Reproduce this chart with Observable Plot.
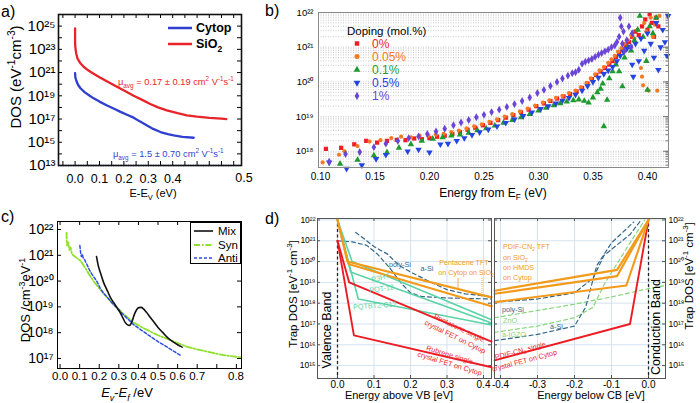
<!DOCTYPE html>
<html><head><meta charset="utf-8">
<script src="https://cdn.jsdelivr.net/npm/d3@7"></script>
<script src="https://cdn.jsdelivr.net/npm/@observablehq/plot@0.6"></script>
<style>
html,body{margin:0;padding:0;background:#fff;}
#fig{position:relative;width:700px;height:403px;overflow:hidden;background:#fff;}
</style></head>
<body><div id="fig"></div>
<script>
// ================= DATA =================
// Panel a: DOS vs E-Ev (log10 DOS)
const cytopE = [0, 0.001, 0.005, 0.012, 0.022, 0.04, 0.06, 0.076, 0.1, 0.131, 0.16, 0.186, 0.215, 0.24, 0.265, 0.295, 0.32, 0.35, 0.38, 0.404, 0.44, 0.486];
const cytopLogDOS = [20.96, 20.6, 20.3, 19.95, 19.65, 19.3, 19.0, 18.78, 18.5, 18.17, 17.88, 17.62, 17.35, 17.12, 16.8, 16.45, 16.15, 15.88, 15.7, 15.59, 15.47, 15.39];
const sio2E = [0, 0, 0.002, 0.005, 0.01, 0.02, 0.035, 0.05, 0.076, 0.1, 0.13, 0.16, 0.185, 0.21, 0.24, 0.275, 0.308, 0.34, 0.376, 0.42, 0.458, 0.5, 0.55, 0.6, 0.62];
const sio2LogDOS = [24.8, 23.5, 23.0, 22.6, 22.2, 21.85, 21.5, 21.25, 20.9, 20.6, 20.25, 19.9, 19.62, 19.35, 19.0, 18.65, 18.3, 18.0, 17.74, 17.5, 17.32, 17.2, 17.1, 17.03, 17.0];
const aXTicks = [0, 0.1, 0.2, 0.3, 0.4];
const aYExp = [13, 15, 17, 19, 21, 23, 25];

// Panel b: [energy from EF, log10 DOS] per doping level
const dope0 = [[0.105,18.07],[0.119,18.1],[0.131,18.2],[0.142,18.3],[0.152,18.25],[0.161,18.3],[0.17,18.33],[0.178,18.32],[0.186,18.37],[0.193,18.35],[0.2,18.38],[0.207,18.42],[0.214,18.45],[0.221,18.5],[0.228,18.55],[0.235,18.62],[0.242,18.68],[0.249,18.75],[0.256,18.82],[0.263,18.9],[0.27,18.97],[0.277,19.04],[0.284,19.12],[0.291,19.2],[0.298,19.3],[0.305,19.38],[0.311,19.45],[0.317,19.52],[0.323,19.58],[0.329,19.65],[0.335,19.72],[0.34,19.82],[0.345,19.95],[0.349,20.08],[0.353,20.2],[0.357,20.3],[0.361,20.4],[0.365,20.5],[0.368,20.6],[0.371,20.72],[0.374,20.82],[0.377,20.93],[0.38,21.05],[0.383,21.15],[0.386,21.3],[0.389,21.45],[0.392,21.35],[0.395,21.6],[0.398,21.8],[0.4,21.5],[0.402,21.95],[0.404,21.7],[0.406,21.3],[0.408,21.85],[0.41,21.6]];
const dope005 = [[0.102,17.68],[0.117,17.9],[0.122,18.0],[0.134,18.15],[0.145,18.28],[0.155,18.32],[0.165,18.38],[0.174,18.42],[0.183,18.4],[0.191,18.45],[0.199,18.45],[0.206,18.48],[0.213,18.5],[0.22,18.55],[0.227,18.6],[0.234,18.66],[0.241,18.72],[0.248,18.78],[0.255,18.85],[0.262,18.92],[0.269,19.0],[0.276,19.07],[0.283,19.15],[0.29,19.23],[0.297,19.32],[0.304,19.4],[0.31,19.47],[0.316,19.54],[0.322,19.6],[0.328,19.68],[0.334,19.75],[0.339,19.85],[0.344,19.97],[0.348,20.1],[0.352,20.22],[0.356,20.33],[0.36,20.43],[0.364,20.55],[0.367,20.65],[0.37,20.75],[0.373,20.87],[0.376,20.97],[0.379,21.1],[0.382,21.2],[0.385,21.35],[0.388,21.25],[0.391,21.5],[0.394,20.4],[0.395,20.15],[0.396,19.9],[0.397,21.7],[0.399,21.45],[0.401,19.75],[0.403,21.85],[0.405,21.3],[0.407,21.65],[0.409,19.75],[0.411,21.9]];
const dope01 = [[0.118,17.64],[0.134,17.75],[0.149,17.88],[0.161,17.97],[0.172,18.1],[0.183,18.2],[0.193,18.3],[0.203,18.36],[0.212,18.4],[0.22,18.45],[0.228,18.48],[0.236,18.53],[0.244,18.6],[0.252,18.66],[0.26,18.74],[0.268,18.82],[0.276,18.9],[0.284,18.98],[0.292,19.07],[0.3,19.17],[0.307,19.25],[0.314,19.32],[0.32,19.38],[0.326,19.43],[0.332,19.47],[0.337,19.49],[0.342,19.45],[0.346,19.4],[0.35,19.55],[0.354,19.7],[0.357,19.8],[0.359,19.95],[0.36,18.72],[0.363,19.48],[0.365,20.1],[0.368,20.3],[0.371,20.5],[0.374,20.3],[0.377,19.87],[0.379,20.7],[0.382,21.0],[0.385,20.9],[0.388,21.2],[0.391,21.5],[0.393,21.9],[0.396,21.3],[0.399,20.6],[0.4,19.77],[0.402,21.6],[0.405,21.4],[0.408,21.85]];
const dope05 = [[0.108,17.68],[0.124,17.5],[0.138,17.6],[0.151,17.78],[0.16,17.9],[0.18,18.0],[0.19,18.05],[0.2,17.97],[0.21,18.2],[0.217,18.22],[0.225,18.3],[0.232,18.38],[0.239,18.47],[0.246,18.55],[0.254,18.63],[0.262,18.72],[0.27,18.82],[0.278,18.92],[0.286,19.02],[0.294,19.12],[0.302,19.22],[0.309,19.3],[0.316,19.38],[0.322,19.46],[0.328,19.54],[0.334,19.63],[0.34,19.75],[0.345,19.88],[0.35,20.0],[0.355,20.12],[0.36,20.23],[0.364,20.33],[0.368,20.43],[0.372,20.6],[0.375,20.75],[0.378,20.87],[0.381,20.95],[0.384,21.02],[0.386,20.5],[0.387,20.15],[0.389,21.1],[0.392,20.6],[0.394,21.25],[0.397,20.9],[0.4,21.4],[0.403,21.1],[0.406,20.7],[0.408,21.7],[0.41,20.35],[0.412,21.0],[0.414,21.5],[0.416,21.15],[0.418,20.75],[0.419,21.9]];
const dope1 = [[0.108,17.7],[0.123,17.92],[0.136,17.98],[0.149,18.12],[0.16,18.22],[0.171,18.3],[0.181,18.38],[0.19,18.43],[0.198,18.5],[0.206,18.57],[0.214,18.65],[0.222,18.75],[0.229,18.83],[0.236,18.9],[0.243,18.98],[0.25,19.05],[0.257,19.13],[0.264,19.2],[0.271,19.28],[0.278,19.36],[0.285,19.45],[0.292,19.55],[0.299,19.68],[0.305,19.77],[0.311,19.88],[0.317,20.0],[0.322,20.1],[0.327,20.18],[0.331,20.25],[0.334,20.28],[0.337,20.35],[0.34,20.52],[0.343,20.58],[0.346,20.62],[0.349,20.66],[0.352,20.72],[0.355,20.78],[0.358,20.83],[0.361,20.88],[0.364,20.93],[0.367,21.0],[0.37,21.05],[0.372,21.15],[0.374,21.3],[0.375,21.85],[0.376,21.6],[0.377,21.1],[0.378,21.45],[0.379,20.9],[0.381,21.2],[0.383,21.6],[0.385,21.0],[0.386,21.4]];
const dopingLabels = ["0%", "0.05%", "0.1%", "0.5%", "1%"];
const bXTicks = [0.10, 0.15, 0.20, 0.25, 0.30, 0.35, 0.40];
const bYExp = [18, 19, 20, 21, 22];

// Panel c: [Ev-Ef, log10 DOS]
const mixC = [[0.186,20.95],[0.195,20.6],[0.207,20.3],[0.222,19.95],[0.24,19.65],[0.258,19.35],[0.275,19.15],[0.292,18.95],[0.309,18.75],[0.322,18.55],[0.334,18.38],[0.345,18.3],[0.352,18.28],[0.36,18.32],[0.368,18.45],[0.378,18.68],[0.39,18.88],[0.402,18.97],[0.414,18.98],[0.426,18.92],[0.44,18.8],[0.46,18.6],[0.48,18.4],[0.5,18.2],[0.525,18.0],[0.55,17.8],[0.575,17.65],[0.6,17.53],[0.623,17.44]];
const synC = [[0.033,21.88],[0.034,21.6],[0.036,21.38],[0.042,21.5],[0.048,21.2],[0.054,21.3],[0.06,21.06],[0.07,20.98],[0.085,20.9],[0.105,20.78],[0.125,20.55],[0.145,20.3],[0.17,20.0],[0.2,19.72],[0.23,19.45],[0.258,19.22],[0.29,18.98],[0.32,18.75],[0.35,18.55],[0.377,18.38],[0.42,18.2],[0.462,18.04],[0.5,17.9],[0.547,17.76],[0.6,17.6],[0.65,17.45],[0.717,17.32],[0.8,17.18],[0.86,17.1],[0.92,17.04]];
const antiC = [[0.101,21.38],[0.105,21.1],[0.109,20.95],[0.113,21.05],[0.118,20.9],[0.124,20.85],[0.13,20.75],[0.14,20.6],[0.152,20.4],[0.164,20.25],[0.178,20.1],[0.19,19.96],[0.205,19.72],[0.22,19.55],[0.24,19.38],[0.265,19.15],[0.292,18.95],[0.32,18.72],[0.35,18.5],[0.377,18.3],[0.42,18.07],[0.462,17.85],[0.5,17.65],[0.547,17.44],[0.58,17.28],[0.615,17.12]];
const cXTicks = [0, 0.1, 0.2, 0.3, 0.4, 0.5, 0.6, 0.7];
const cYExp = [17, 18, 19, 20, 21, 22];

// Panel d left: energy above VB, log10 trap DOS
const pentTftCytop = [[0, 22], [0.027, 20.0], [0.422, 18.28]];
const pentTftSiO2 = [[0, 22], [0.03, 19.88], [0.422, 17.85]];
const p3ht = [[0, 22], [0.04, 20.0], [0.422, 17.2]];
const pqt12 = [[0, 22], [0.036, 19.5], [0.422, 17.05]];
const pqtbt2 = [[0, 22], [0.057, 18.2], [0.422, 16.95]];
const pentSC = [[0, 21.0], [0.032, 19.0], [0.422, 16.15]];
const rubreneSC = [[0, 21.0], [0.045, 16.45], [0.422, 14.92]];
const polySiVB = [[0, 21.0], [0.04, 20.95], [0.08, 20.78], [0.11, 20.35], [0.145, 19.65], [0.175, 18.95], [0.2, 18.5], [0.23, 18.32], [0.3, 18.25], [0.422, 18.2]];
const aSiVB = [[0.05, 21.4], [0.08, 21.0], [0.1, 20.72], [0.136, 20.37], [0.17, 19.8], [0.2, 19.5], [0.245, 19.1], [0.3, 18.65], [0.35, 18.45], [0.422, 18.32]];
// Panel d right: energy below CB
const pdifSiO2 = [[-0.416, 18.6], [-0.085, 19.6], [0, 22]];
const pdifHMDS = [[-0.416, 18.45], [-0.085, 19.3], [0, 22]];
const pdifCytop = [[-0.416, 18.05], [-0.06, 18.85], [0, 22]];
const pdifSC = [[-0.416, 15.25], [-0.05, 17.0], [0, 22]];
const znoCB = [[-0.416, 17.3], [-0.3, 17.65], [-0.2, 17.95], [-0.1, 18.3], [0, 18.7], [0.046, 18.85]];
const aIgzoCB = [[-0.416, 16.6], [-0.3, 16.9], [-0.2, 17.3], [-0.15, 17.8], [-0.12, 18.9], [-0.05, 20.9], [-0.01, 22]];
const polySiCB = [[-0.416, 18.05], [-0.3, 18.2], [-0.2, 18.5], [-0.15, 19.2], [-0.12, 20.3], [-0.05, 21.3], [-0.02, 22]];
const aSiCB = [[-0.416, 16.2], [-0.3, 16.5], [-0.2, 16.9], [-0.17, 17.8], [-0.14, 19.8], [-0.1, 20.9], [-0.04, 21.9]];
const dLXTicks = [0, 0.1, 0.2, 0.3, 0.4];
const dRXTicks = [-0.4, -0.3, -0.2, -0.1, 0];
const dYExp = [15, 16, 17, 18, 19, 20, 21, 22];

// ================= HELPERS =================
const FONT = '"Liberation Sans", Arial, Helvetica, sans-serif';
const SUP = {"0":"⁰","1":"¹","2":"²","3":"³","4":"⁴","5":"⁵","6":"⁶","7":"⁷","8":"⁸","9":"⁹","-":"⁻"};
const pow10 = d => "10" + String(Math.round(Math.log10(d))).split("").map(c => SUP[c]).join("");
const rowsXY = (xs, es) => xs.map((x, i) => ({x, y: 10 ** es[i]}));
const rows = pairs => pairs.map(([x, e]) => ({x, y: 10 ** e}));
const decades = (lo, hi) => d3.range(lo, hi + 1).map(e => 10 ** e);
const fig = document.getElementById("fig");
const baseStyle = {fontFamily: FONT, overflow: "visible", background: "transparent", color: "#000"};
function place(svg, left, top) {
  svg.style.position = "absolute"; svg.style.left = left + "px"; svg.style.top = top + "px";
  fig.appendChild(svg); return svg;
}

const RED = "#e8232a", BLUE = "#2f3fd0";

// ================= PANEL A =================
{
  const W = 245, H = 200, ml = 58, mr = 4, mt = 14, mb = 35;
  const FW = W - ml - mr, FH = H - mt - mb;
  const xMinor = d3.range(-0.05, 0.66, 0.05);
  const yAll = decades(13, 26);
  place(Plot.plot({
    width: W, height: H, marginLeft: ml, marginRight: mr, marginTop: mt, marginBottom: mb,
    style: baseStyle,
    x: {domain: [-0.068, 0.682], label: null},
    y: {type: "log", domain: [1e13, 1e26], label: null},
    marks: [
      Plot.axisX(aXTicks, {tickSize: 0, tickPadding: 9, fontSize: 12.5, tickFormat: d => d.toFixed(1), label: null}),
      Plot.axisY(aYExp.map(e => 10 ** e), {tickSize: 0, tickPadding: 3, fontSize: 15, tickFormat: pow10, label: null}),
      Plot.tickX(xMinor, {x: d => d, insetTop: FH - 4, stroke: "#000"}),
      Plot.tickX(xMinor, {x: d => d, insetBottom: FH - 4, stroke: "#000"}),
      Plot.tickY(yAll, {y: d => d, insetRight: FW - 4, stroke: "#000"}),
      Plot.tickY(yAll, {y: d => d, insetLeft: FW - 4, stroke: "#000"}),
      Plot.ruleY([1e13], {stroke: BLUE, strokeDasharray: "1,1.5", strokeWidth: 1.5}),
      Plot.line(rowsXY(cytopE, cytopLogDOS), {x: "x", y: "y", stroke: BLUE, strokeWidth: 2.3}),
      Plot.line(rowsXY(sio2E, sio2LogDOS), {x: "x", y: "y", stroke: RED, strokeWidth: 2.3}),
      Plot.frame({stroke: "#111", strokeWidth: 1.6})
    ]
  }), 0, 0);
}

// ================= PANEL B =================
const dopingColors = ["#ee1d25", "#f47a22", "#1f9a2e", "#2545e0", "#6a46d6"];
const triDown = {draw(ctx, size) { const y = -Math.sqrt(size / (Math.sqrt(3) * 3)); ctx.moveTo(0, -y * 2); ctx.lineTo(-Math.sqrt(3) * y, y); ctx.lineTo(Math.sqrt(3) * y, y); ctx.closePath(); }};
const dopingSymbols = ["square", "circle", "triangle", triDown, "diamond"];
{
  const W = 455, H = 200, ml = 73, mr = 32, mt = 12, mb = 33;
  const FW = W - ml - mr;
  const grid = [];
  for (let e = 17; e <= 21; e++) for (let k = 1; k <= 9; k++) { const v = k * 10 ** e; if (v >= 10 ** 17.54 && v <= 1e22) grid.push(v); }
  const series = [dope0, dope005, dope01, dope05, dope1];
  place(Plot.plot({
    width: W, height: H, marginLeft: ml, marginRight: mr, marginTop: mt, marginBottom: mb,
    style: baseStyle,
    x: {domain: [0.0982, 0.4193], label: null},
    y: {type: "log", domain: [10 ** 17.533, 1e22], label: null},
    marks: [
      Plot.ruleY(grid, {y: d => d, stroke: "#bdbdbd", strokeDasharray: "1,1.5", strokeWidth: 0.8}),
      Plot.axisX(bXTicks, {tickSize: 0, tickPadding: 5, fontSize: 10, tickFormat: d => d.toFixed(2), label: null}),
      Plot.axisY(bYExp.map(e => 10 ** e), {tickSize: 0, tickPadding: 5, fontSize: 9.5, tickFormat: pow10, label: null}),
      Plot.tickY(grid, {y: d => d, insetLeft: FW - 2.5, stroke: "#777"}),
      Plot.tickY(bYExp.map(e => 10 ** e), {y: d => d, insetLeft: FW - 5, stroke: "#777"}),
      ...series.map((s, i) => Plot.dot(rows(s), {x: "x", y: "y", fill: dopingColors[i], stroke: "none", symbol: dopingSymbols[i], r: i === 1 ? 2.1 : 2.4})),
      Plot.frame({stroke: "#8a8a8a"})
    ]
  }), 245, 0);
}

// ================= PANEL C =================
const mixColor = "#111", synColor = "#8ee02a", antiColor = "#2d4fe0";
{
  const W = 245, H = 203, ml = 57, mr = 4, mt = 21, mb = 35;
  const FW = W - ml - mr, FH = H - mt - mb;
  const xt = d3.range(0, 0.95, 0.1);
  const yt = decades(17, 22);
  place(Plot.plot({
    width: W, height: H, marginLeft: ml, marginRight: mr, marginTop: mt, marginBottom: mb,
    style: baseStyle,
    x: {domain: [-0.013, 0.926], label: null},
    y: {type: "log", domain: [10 ** 16.61, 10 ** 22.31], label: null},
    marks: [
      Plot.axisX(cXTicks, {tickSize: 0, tickPadding: 3, fontSize: 11.5, tickFormat: d => d.toFixed(1), label: null}),
      Plot.axisY(cYExp.map(e => 10 ** e), {tickSize: 0, tickPadding: 4, fontSize: 14, tickFormat: pow10, label: null}),
      Plot.tickX(xt, {x: d => d, insetTop: FH - 4, stroke: "#000"}),
      Plot.tickX(xt, {x: d => d, insetBottom: FH - 4, stroke: "#000"}),
      Plot.tickY(yt, {y: d => d, insetRight: FW - 4, stroke: "#000"}),
      Plot.tickY(yt, {y: d => d, insetLeft: FW - 4, stroke: "#000"}),
      Plot.line(rows(synC), {x: "x", y: "y", stroke: synColor, strokeWidth: 1.8, strokeDasharray: "6,2,1.5,2"}),
      Plot.line(rows(antiC), {x: "x", y: "y", stroke: antiColor, strokeWidth: 1.5, strokeDasharray: "3,2"}),
      Plot.line(rows(mixC), {x: "x", y: "y", stroke: mixColor, strokeWidth: 1.6, curve: "monotone-x"}),
      Plot.frame({stroke: "#000"})
    ]
  }), 0, 200);
}

// ================= PANEL D =================
const ORANGE = "#f39a1b", TEAL = "#5ad3a6", DRED = "#ec1c24", STEEL = "#34678a", LGREEN = "#86d67a";
const GRID = "#d3e3f0";
function dMarks(FW, FH, xt) {
  const yt = dYExp.map(e => 10 ** e);
  return [
    Plot.ruleX(xt, {x: d => d, stroke: GRID}),
    Plot.ruleY(yt, {y: d => d, stroke: GRID}),
    Plot.tickX(xt, {x: d => d, insetTop: FH - 3, stroke: "#555"}),
    Plot.tickX(xt, {x: d => d, insetBottom: FH - 3, stroke: "#555"}),
    Plot.tickY(yt, {y: d => d, insetRight: FW - 3, stroke: "#555"}),
    Plot.tickY(yt, {y: d => d, insetLeft: FW - 3, stroke: "#555"}),
    Plot.ruleX([0], {stroke: "#222", strokeDasharray: "3,2.5", strokeWidth: 1.3})
  ];
}
const solid = (d, c, w = 1.9) => Plot.line(rows(d), {x: "x", y: "y", stroke: c, strokeWidth: w});
const dashed = (d, c) => Plot.line(rows(d), {x: "x", y: "y", stroke: c, strokeWidth: 1.2, strokeDasharray: "4,3"});
{
  const W = 248, H = 203, ml = 72, mr = 2, mt = 18, mb = 25;
  const FW = W - ml - mr, FH = H - mt - mb;
  place(Plot.plot({
    width: W, height: H, marginLeft: ml, marginRight: mr, marginTop: mt, marginBottom: mb,
    style: baseStyle,
    x: {domain: [-0.0548, 0.4219], label: null},
    y: {type: "log", domain: [10 ** 14.38, 10 ** 22.07], label: null},
    marks: [
      ...dMarks(FW, FH, dLXTicks),
      Plot.axisX(dLXTicks, {tickSize: 0, tickPadding: 2, fontSize: 10, tickFormat: d => d.toFixed(1), label: null}),
      Plot.axisY(dYExp.map(e => 10 ** e), {tickSize: 0, tickPadding: 2, fontSize: 8.5, tickFormat: pow10, label: null}),
      dashed(polySiVB, STEEL), dashed(aSiVB, STEEL),
      solid(p3ht, TEAL, 1.6), solid(pqt12, TEAL, 1.6), solid(pqtbt2, TEAL, 1.6),
      solid(pentSC, DRED), solid(rubreneSC, DRED),
      solid(pentTftCytop, ORANGE, 2.1), solid(pentTftSiO2, ORANGE, 2.1),
      Plot.frame({stroke: "#555"})
    ]
  }), 245, 200);
}
{
  const W = 207, H = 203, ml = 1, mr = 35, mt = 18, mb = 25;
  const FW = W - ml - mr, FH = H - mt - mb;
  place(Plot.plot({
    width: W, height: H, marginLeft: ml, marginRight: mr, marginTop: mt, marginBottom: mb,
    style: baseStyle,
    x: {domain: [-0.4162, 0.0459], label: null},
    y: {type: "log", domain: [10 ** 14.38, 10 ** 22.07], label: null},
    marks: [
      ...dMarks(FW, FH, dRXTicks),
      Plot.axisX(dRXTicks, {tickSize: 0, tickPadding: 2, fontSize: 10, tickFormat: d => d.toFixed(1), label: null}),
      Plot.axisY(dYExp.map(e => 10 ** e), {anchor: "right", tickSize: 0, tickPadding: 3, fontSize: 8.5, tickFormat: pow10, label: null}),
      dashed(znoCB, LGREEN), dashed(aIgzoCB, LGREEN),
      dashed(polySiCB, STEEL), dashed(aSiCB, STEEL),
      solid(pdifSC, DRED),
      solid(pdifSiO2, ORANGE, 2.1), solid(pdifHMDS, ORANGE, 2.1), solid(pdifCytop, ORANGE, 2.1),
      Plot.frame({stroke: "#555"})
    ]
  }), 493, 200);
}

// ================= TEXT OVERLAY =================
const ov = d3.select(fig).append("svg").attr("width", 700).attr("height", 403)
  .style("position", "absolute").style("left", "0px").style("top", "0px").style("font-family", FONT);
function txt(x, y, parts, o = {}) {
  const size = o.size || 12;
  const t = ov.append("text").attr("x", x).attr("y", y).attr("font-size", size)
    .attr("fill", o.fill || "#000").attr("text-anchor", o.anchor || "start");
  if (o.weight) t.attr("font-weight", o.weight);
  if (o.italic) t.attr("font-style", "italic");
  if (o.rotate) t.attr("transform", `rotate(${o.rotate},${x},${y})`);
  let cur = 0;
  (typeof parts === "string" ? [parts] : parts).forEach(p => {
    const [s, k, it] = Array.isArray(p) ? p : [p, "n"];
    const off = k === "sup" ? -0.4 * size : k === "sub" ? 0.28 * size : 0;
    const ts = t.append("tspan").attr("dy", off - cur).text(s);
    if (k === "sup" || k === "sub") ts.attr("font-size", size * 0.68);
    if (it) ts.attr("font-style", "italic");
    cur = off;
  });
  return t;
}
function seg(x1, y1, x2, y2, c, w, dash) {
  const l = ov.append("line").attr("x1", x1).attr("y1", y1).attr("x2", x2).attr("y2", y2).attr("stroke", c).attr("stroke-width", w);
  if (dash) l.attr("stroke-dasharray", dash);
}

// panel labels
txt(1, 17, "a)", {size: 16}); txt(265, 16, "b)", {size: 16}); txt(1, 222, "c)", {size: 16}); txt(265, 224, "d)", {size: 16});

// panel a texts
txt(21, 77, ["DOS (eV", ["-1", "sup"], "cm", ["-3", "sup"], ")"], {size: 15, anchor: "middle", rotate: -90});
txt(153, 197, ["E-E", ["V", "sub"], " (eV)"], {size: 11, anchor: "middle"});
txt(244, 182, "0.5", {size: 12.5, anchor: "middle"});
seg(168, 28, 192, 28, BLUE, 2.5); txt(196, 32, "Cytop", {size: 12.5, weight: "bold"});
seg(168, 44, 192, 44, RED, 2.5); txt(196, 48, ["SiO", ["2", "sub"]], {size: 12.5, weight: "bold"});
txt(118, 85, ["μ", ["avg", "sub"], " = 0.17 ± 0.19 cm", ["2", "sup"], " V", ["-1", "sup"], "s", ["-1", "sup"]], {size: 9.3, fill: RED});
txt(113, 157, ["μ", ["avg", "sub"], " = 1.5 ± 0.70 cm", ["2", "sup"], " V", ["-1", "sup"], "s", ["-1", "sup"]], {size: 9.3, fill: BLUE});

// panel b texts
txt(347, 35, "Doping (mol.%)", {size: 11.5});
const sym = [d3.symbolSquare, d3.symbolCircle, d3.symbolTriangle, triDown, d3.symbolDiamond];
dopingLabels.forEach((lab, i) => {
  const cy = 43.5 + i * 13.1;
  ov.append("path").attr("d", d3.symbol(sym[i], 20)()).attr("transform", `translate(357,${cy})`).attr("fill", dopingColors[i]);
  txt(372, cy + 4.3, lab, {size: 12, fill: dopingColors[i]});
});
txt(493, 197, ["Energy from E", ["F", "sub"], " (eV)"], {size: 12, anchor: "middle"});

// panel c texts
txt(30, 300, ["DOS /cm", ["-3", "sup"], "eV", ["-1", "sup"]], {size: 13, anchor: "middle", rotate: -90});
txt(127, 397, [["E", "n", true], ["v", "sub", true], "-", ["E", "n", true], ["f", "sub", true], " /eV"], {size: 13, anchor: "middle"});
txt(236, 380, "0.8", {size: 11.5, anchor: "middle"});
ov.append("rect").attr("x", 190.5).attr("y", 222.5).attr("width", 50).attr("height", 41).attr("fill", "#fff").attr("stroke", "#000");
seg(194, 231, 213, 231, mixColor, 1.6); txt(218, 235, "Mix", {size: 11.5});
seg(194, 245, 213, 245, synColor, 1.8, "6,2,1.5,2"); txt(218, 249, "Syn", {size: 11.5});
seg(194, 258, 213, 258, antiColor, 1.5, "3,2"); txt(218, 262, "Anti", {size: 11.5});

// panel d texts
txt(297, 294, ["Trap DOS [eV", ["-1", "sup"], " cm", ["-3", "sup"], "]"], {size: 11.5, anchor: "middle", rotate: -90});
txt(693, 276, ["Trap DOS [eV", ["-1", "sup"], " cm", ["-3", "sup"], "]"], {size: 11.5, anchor: "middle", rotate: -90});
txt(399, 399, "Energy above VB [eV]", {size: 11, anchor: "middle"});
txt(591, 399, "Energy below CB [eV]", {size: 11, anchor: "middle"});
txt(331, 330, "Valence Band", {size: 12.5, anchor: "middle", rotate: -90});
txt(660, 327, "Conduction Band", {size: 12.5, anchor: "middle", rotate: -90});
const ls = 7.2;
txt(400, 267, "poly-Si", {size: ls, fill: STEEL, anchor: "middle"});
txt(427, 271, "a-Si", {size: ls, fill: STEEL, anchor: "middle"});
txt(464, 265, "Pentacene TFT", {size: ls, fill: ORANGE, anchor: "middle"});
txt(466, 275, ["on Cytop on SiO", ["2", "sub"]], {size: ls, fill: ORANGE, anchor: "middle"});
seg(458, 278, 458, 288, ORANGE, 0.8); seg(482, 278, 482, 298, ORANGE, 0.8, "1,1");
txt(381, 280, "P3HT", {size: ls, fill: TEAL, anchor: "middle", rotate: -12});
txt(382, 291, "PQT-12", {size: ls, fill: TEAL, anchor: "middle", rotate: -8});
txt(375, 308, "PQTBT2-C12", {size: ls, fill: TEAL, anchor: "middle", rotate: -4});
txt(458, 330, "Pentacene single", {size: ls, fill: DRED, anchor: "middle", rotate: 26});
txt(454, 339, "crystal FET on Cytop", {size: ls, fill: DRED, anchor: "middle", rotate: 26});
txt(449, 357, "Rubrene single", {size: ls, fill: DRED, anchor: "middle", rotate: 17});
txt(449, 366, "crystal FET on Cytop", {size: ls, fill: DRED, anchor: "middle", rotate: 17});
txt(503, 249, ["PDIF-CN", ["2", "sub"], " TFT"], {size: ls, fill: ORANGE});
txt(503, 260, ["on SiO", ["2", "sub"]], {size: ls, fill: ORANGE});
txt(503, 270, "on HMDS", {size: ls, fill: ORANGE});
txt(503, 280, "on Cytop", {size: ls, fill: ORANGE});
txt(502, 312, "poly-Si", {size: ls, fill: STEEL});
txt(503, 323, "ZnO", {size: ls, fill: LGREEN});
txt(502, 337, "a-IGZO", {size: ls, fill: LGREEN});
txt(550, 329, "a-Si", {size: ls, fill: STEEL});
txt(521, 353, ["PDIF-CN", ["2", "sub"], " single"], {size: ls, fill: DRED, anchor: "middle", rotate: -15});
txt(525, 363, "crystal FET on Cytop", {size: ls, fill: DRED, anchor: "middle", rotate: -15});
</script></body></html>
